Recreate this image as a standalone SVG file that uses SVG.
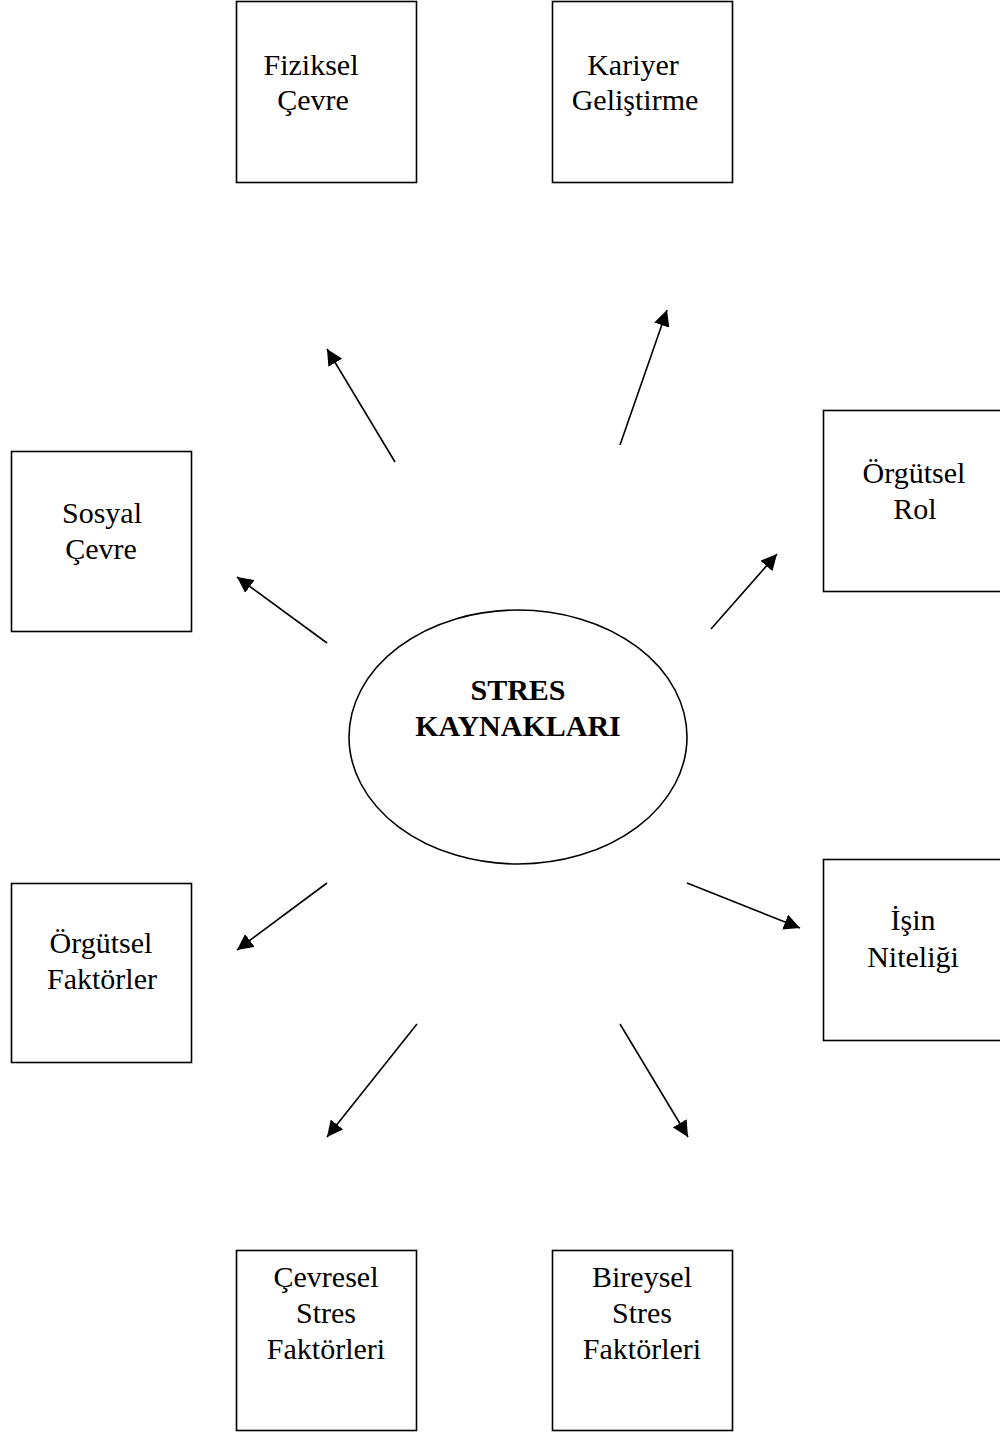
<svg xmlns="http://www.w3.org/2000/svg" width="1000" height="1435" viewBox="0 0 1000 1435">
<defs>
<style>
.box{fill:#fff;stroke:#000;stroke-width:1.6}
.t{font-family:"Liberation Serif","Times New Roman",serif;font-size:30px;fill:#000;text-anchor:middle}
.b{font-weight:bold}
.c{stroke:#000;stroke-width:1.6;fill:none;marker-end:url(#ah)}
</style>
<marker id="ah" markerUnits="userSpaceOnUse" markerWidth="18" markerHeight="16" refX="16" refY="8" orient="auto">
<path d="M0,0 L16,8 L0,16 Z" fill="#000"/>
</marker>
</defs>
<rect width="1000" height="1435" fill="#fff"/>
<g id="center">
<ellipse cx="518" cy="737" rx="169" ry="127" fill="#fff" stroke="#000" stroke-width="1.6"/>
<text class="t b" x="518" y="700">STRES</text>
<text class="t b" x="518" y="736">KAYNAKLARI</text>
</g>
<g id="fiziksel">
<rect class="box" x="236.5" y="1.5" width="180" height="181"/>
<text class="t" x="311" y="75">Fiziksel</text>
<text class="t" x="313" y="110">Çevre</text>
</g>
<g id="kariyer">
<rect class="box" x="552.5" y="1.5" width="180" height="181"/>
<text class="t" x="633" y="75">Kariyer</text>
<text class="t" x="635" y="110">Geliştirme</text>
</g>
<g id="sosyal">
<rect class="box" x="11.5" y="451.5" width="180" height="180"/>
<text class="t" x="102" y="523">Sosyal</text>
<text class="t" x="101" y="559">Çevre</text>
</g>
<g id="orgrol">
<rect class="box" x="823.5" y="410.5" width="190" height="181"/>
<text class="t" x="914" y="483">Örgütsel</text>
<text class="t" x="915" y="519">Rol</text>
</g>
<g id="isin">
<rect class="box" x="823.5" y="859.5" width="190" height="181"/>
<text class="t" x="913" y="930">İşin</text>
<text class="t" x="913" y="967">Niteliği</text>
</g>
<g id="orgfak">
<rect class="box" x="11.5" y="883.5" width="180" height="179"/>
<text class="t" x="101" y="953">Örgütsel</text>
<text class="t" x="102" y="989">Faktörler</text>
</g>
<g id="cevresel">
<rect class="box" x="236.5" y="1250.5" width="180" height="180"/>
<text class="t" x="326" y="1287">Çevresel</text>
<text class="t" x="326" y="1323">Stres</text>
<text class="t" x="326" y="1359">Faktörleri</text>
</g>
<g id="bireysel">
<rect class="box" x="552.5" y="1250.5" width="180" height="180"/>
<text class="t" x="642" y="1287">Bireysel</text>
<text class="t" x="642" y="1323">Stres</text>
<text class="t" x="642" y="1359">Faktörleri</text>
</g>
<g id="connectors">
<line class="c" x1="395" y1="462" x2="327" y2="349"/>
<line class="c" x1="620" y1="445" x2="667" y2="310"/>
<line class="c" x1="327" y1="643" x2="237" y2="577"/>
<line class="c" x1="711" y1="629" x2="777" y2="554"/>
<line class="c" x1="687" y1="883" x2="800" y2="928"/>
<line class="c" x1="327" y1="883" x2="237" y2="950"/>
<line class="c" x1="417" y1="1024" x2="327" y2="1137"/>
<line class="c" x1="620" y1="1024" x2="688" y2="1137"/>
</g>
</svg>
